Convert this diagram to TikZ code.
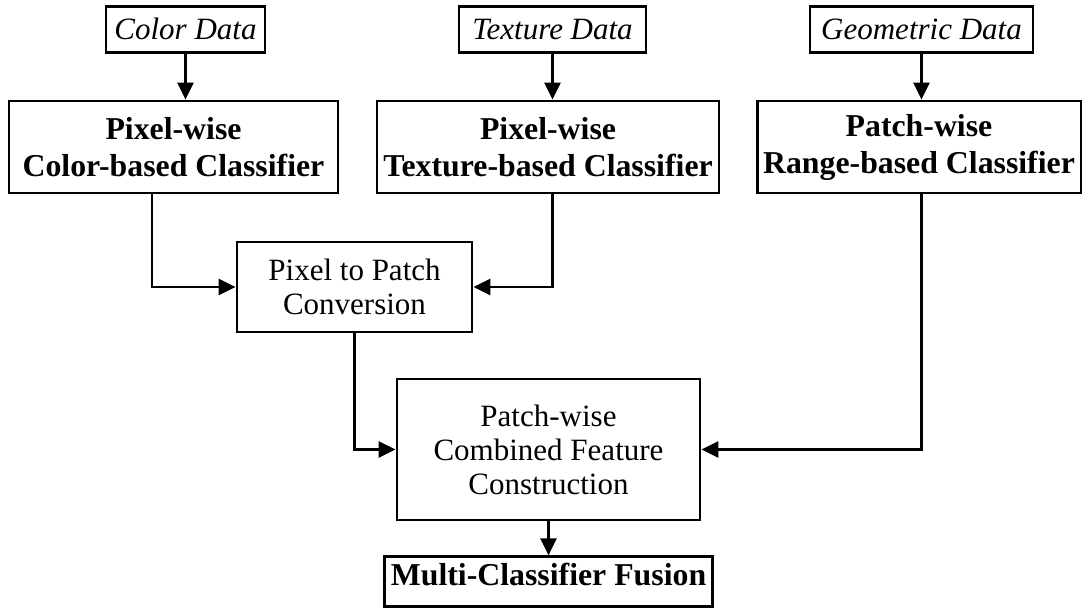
\documentclass[tikz,border=0pt]{standalone}
\usepackage{fontspec}
\setmainfont{Liberation Serif}
\usetikzlibrary{arrows.meta,positioning}
\tikzset{
  databox/.style={draw, line width=1.4pt, font=\fontsize{15.5}{17.5}\selectfont\itshape,
                  minimum height=23pt, inner sep=2pt},
  clbox/.style={draw, line width=1.4pt, align=center, font=\fontsize{15.9}{18.5}\selectfont\bfseries,
                minimum height=46pt, inner sep=3pt},
  stepbox/.style={draw, line width=1.4pt, align=center, font=\fontsize{15.5}{17}\selectfont, inner sep=3pt},
  arr/.style={-{Triangle[length=8.5pt, width=8pt]}, line width=1.3pt}
}

\begin{document}
\begin{tikzpicture}[x=0.5pt, y=-0.5pt, node distance=23pt]
    \useasboundingbox (0,0) rectangle (1082,608);
    \node[clbox, minimum width=164.5pt] (CC) at (173.5,147) {Pixel-wise\\Color-based Classifier};
    \node[clbox, minimum width=171pt] (TC) at (548,147) {Pixel-wise\\Texture-based Classifier};
    \node[clbox, minimum width=161pt] (RC) at (919,147) {Patch-wise\\Range-based Classifier};
    \node[databox, minimum width=79.5pt, above=of CC, xshift=6pt] (CD) {Color Data};
    \node[databox, minimum width=93.5pt, above=of TC, xshift=2.25pt] (TD) {Texture Data};
    \node[databox, minimum width=111.5pt, above=of RC, xshift=1.25pt] (GD) {Geometric Data};
    \node[stepbox, minimum width=117.5pt, minimum height=45pt] (PP) at (354.5,287) {Pixel to Patch\\Conversion};
    \node[stepbox, minimum width=151.5pt, minimum height=70.5pt] (CF) at (548.5,449.5) {Patch-wise\\Combined Feature\\Construction};
    \node[stepbox, font=\fontsize{15.9}{18.5}\selectfont\bfseries, minimum width=160.5pt,
          inner ysep=3pt, text depth=7.5pt, below=17pt of CF] (MF) {Multi-Classifier Fusion};
    \draw[arr] (CD) -- (CD |- CC.north);
    \draw[arr] (TD) -- (TD |- TC.north);
    \draw[arr] (GD) -- (GD |- RC.north);
    \draw[arr] ([xshift=-10.75pt]CC.south) |- (PP.west);
    \draw[arr] (TD |- TC.south) |- (PP.east);
    \draw[arr] (PP.south) |- (CF.west);
    \draw[arr] (GD |- RC.south) |- (CF.east);
    \draw[arr] (CF) -- (MF);
  \end{tikzpicture}
\end{document}
